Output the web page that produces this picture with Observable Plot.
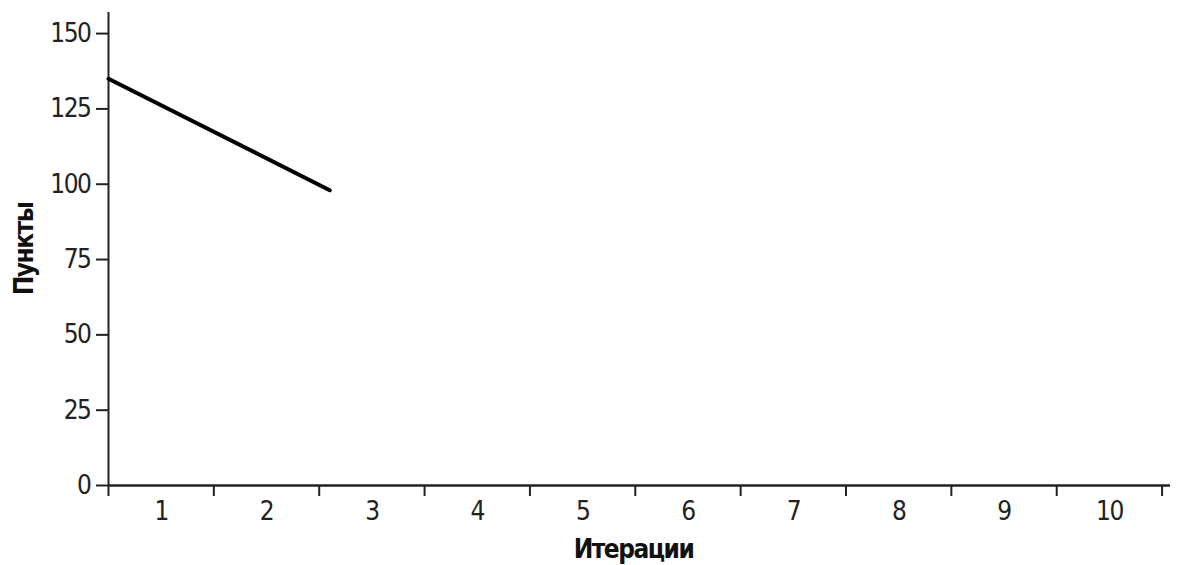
<!DOCTYPE html>
<html>
<head>
<meta charset="utf-8">
<script src="https://cdn.jsdelivr.net/npm/d3@7"></script>
<script src="https://cdn.jsdelivr.net/npm/@observablehq/plot@0.6"></script>
<style>
  html, body { margin: 0; padding: 0; background: #fff; }
  #chart svg { display: block; }
  #chart svg text { letter-spacing: -1.5px; }
</style>
</head>
<body>
<div id="chart"></div>
<script>
const iterations = [0, 2.1];
const points = [135, 98];
const iterationLabels = ["1","2","3","4","5","6","7","8","9","10"];
const yTicks = [0, 25, 50, 75, 100, 125, 150];
const xTitle = "Итерации";
const yTitle = "Пункты";

const lineData = iterations.map((x, i) => ({x, y: points[i]}));
const labelData = iterationLabels.map((l, i) => ({x: i + 0.5, label: l}));
const boundaries = d3.range(0, iterationLabels.length + 1);

const font = "'Liberation Sans Narrow', 'DejaVu Sans Condensed', sans-serif";
const ink = "#222";

const chart = Plot.plot({
  width: 1184,
  height: 565,
  marginLeft: 108,
  marginRight: 14,
  marginTop: 12,
  marginBottom: 80,
  style: {fontFamily: font, background: "#fff", color: ink},
  x: {type: "linear", domain: [0, 10.08]},
  y: {type: "linear", domain: [0, 157]},
  marks: [
    Plot.axisY({ticks: yTicks, tickSize: 12, tickPadding: 6, fontSize: 26, label: null, stroke: ink, strokeWidth: 2}),
    Plot.axisX({ticks: boundaries, tickSize: 11, tickFormat: () => "", label: null, stroke: ink, strokeWidth: 2}),
    Plot.text(labelData, {x: "x", text: "label", frameAnchor: "bottom", lineAnchor: "middle", dy: 26, fontSize: 26, fill: ink}),
    Plot.ruleX([0], {stroke: ink, strokeWidth: 2}),
    Plot.ruleY([0], {stroke: ink, strokeWidth: 2.5}),
    Plot.line(lineData, {x: "x", y: "y", stroke: "#000", strokeWidth: 4}),
    Plot.text([xTitle], {frameAnchor: "bottom", lineAnchor: "middle", textAnchor: "middle", dx: -6, dy: 64, fontSize: 26, fontWeight: "bold", fill: "#111"}),
    Plot.text([yTitle], {frameAnchor: "left", lineAnchor: "middle", textAnchor: "middle", dx: -84, rotate: -90, fontSize: 26, fontWeight: "bold", fill: "#111"})
  ]
});
document.getElementById("chart").appendChild(chart);
</script>
</body>
</html>
